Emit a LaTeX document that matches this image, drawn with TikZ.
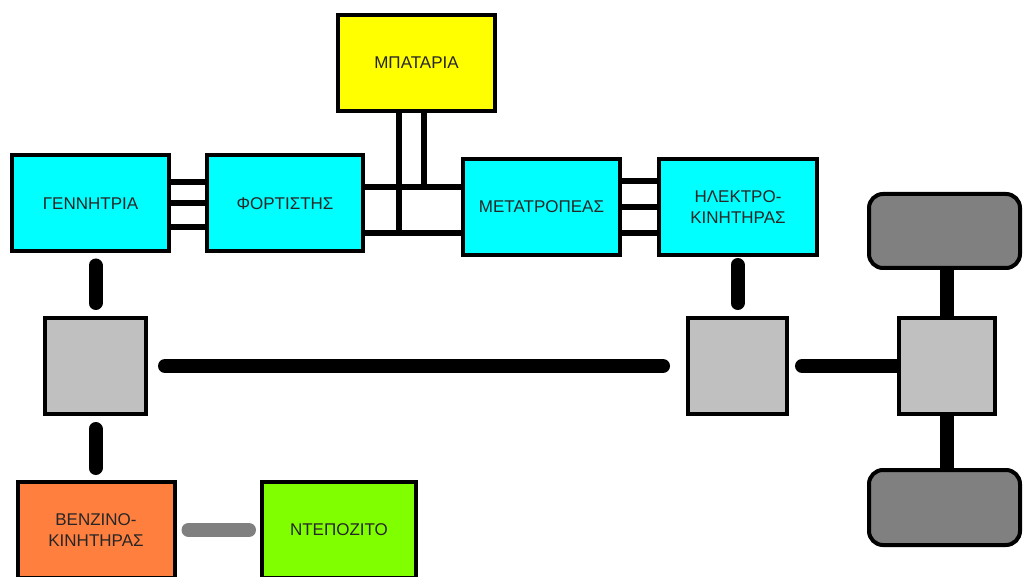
\documentclass[tikz,border=0pt]{standalone}
\usepackage{fontspec}
\setmainfont{Liberation Sans}
\usetikzlibrary{backgrounds}
\definecolor{boxcyan}{RGB}{0,255,255}
\definecolor{boxyellow}{RGB}{255,255,0}
\definecolor{boxorange}{RGB}{255,127,63}
\definecolor{boxgreen}{RGB}{128,255,0}
\definecolor{boxgray}{RGB}{192,192,192}
\definecolor{wheelgray}{RGB}{128,128,128}
\definecolor{fuelgray}{RGB}{128,128,128}
\tikzset{
  unit/.style={draw=black, line width=4pt, rectangle, align=center,
    font=\fontsize{17}{21}\selectfont, text=black!85,
    minimum width=157pt, minimum height=96pt, inner sep=0pt},
  cyanbox/.style={unit, fill=boxcyan},
  gearbox/.style={draw=black, line width=4pt, fill=boxgray,
    minimum width=101pt, minimum height=96pt, inner sep=0pt},
  wheel/.style={draw=black, line width=4pt, fill=wheelgray, rounded corners=14pt,
    minimum width=151pt, minimum height=74pt, inner sep=0pt},
  bus/.style={draw=black, line width=6pt},
  shaft/.style={draw=black, line width=14pt, line cap=round},
  fuel/.style={draw=fuelgray, line width=14pt, line cap=round}
}
\begin{document}
\begin{tikzpicture}[x=1pt, y=-1pt]
\useasboundingbox (0,0) rectangle (1023,577);
\clip (0,0) rectangle (1023,577);

% electrical units
\node[cyanbox] (gen) at (90.5,203.5) {ΓΕΝΝΗΤΡΙΑ};
\node[cyanbox, minimum width=156pt] (chg) at (285,203.5) {ΦΟΡΤΙΣΤΗΣ};
\node[unit, fill=boxyellow] (bat) at (416.5,63) {ΜΠΑΤΑΡΙΑ};
\node[cyanbox] (inv) at (541.5,207) {ΜΕΤΑΤΡΟΠΕΑΣ};
\node[cyanbox, minimum width=158pt] (mot) at (738,207) {ΗΛΕΚΤΡΟ-\\ΚΙΝΗΤΗΡΑΣ};

% mechanical units
\node[gearbox] (g1) at (95.5,366) {};
\node[gearbox, minimum width=99pt] (g2) at (737.5,366) {};
\node[gearbox, minimum width=96pt] (g3) at (947,366) {};
\node[wheel] (w1) at (944.5,231) {};
\node[wheel, minimum height=75pt] (w2) at (944.5,507.5) {};

% combustion engine and tank
\node[unit, fill=boxorange] (eng) at (96,530) {ΒΕΝΖΙΝΟ-\\ΚΙΝΗΤΗΡΑΣ};
\node[unit, fill=boxgreen, minimum width=154pt] (tank) at (339,530) {ΝΤΕΠΟΖΙΤΟ};

\begin{scope}[on background layer]
  % generator -> charger
  \draw[bus] ([yshift=21.5pt]gen.east) -- ([yshift=21.5pt]gen.east -| chg.west);
  \draw[bus, line cap=round] (gen.east) -- (gen.east -| chg.west);
  \draw[bus] ([yshift=-23.5pt]gen.east) -- ([yshift=-23.5pt]gen.east -| chg.west);
  % charger -> inverter, with the battery tapped in
  \coordinate (hi) at ([yshift=16.5pt]chg.east);
  \coordinate (lo) at ([yshift=-29.5pt]chg.east);
  \draw[bus] (hi) -- (hi -| inv.west);
  \draw[bus] (lo) -- (lo -| inv.west);
  \draw[bus] ([xshift=-17.5pt]bat.south) -- ([xshift=-17.5pt]bat.south |- lo);
  \draw[bus] ([xshift=7.5pt]bat.south) -- ([xshift=7.5pt]bat.south |- hi);
  % inverter -> electric motor
  \draw[bus] ([yshift=26pt]inv.east) -- ([yshift=26pt]inv.east -| mot.west);
  \draw[bus] (inv.east) -- (inv.east -| mot.west);
  \draw[bus] ([yshift=-26pt]inv.east) -- ([yshift=-26pt]inv.east -| mot.west);

  % drive shafts
  \draw[shaft, shorten <=12pt, shorten >=13pt] (gen.south -| g1.north) -- (g1.north);
  \draw[shaft, shorten <=13pt, shorten >=12pt] (g1.south) -- (g1.south |- eng.north);
  \draw[shaft, shorten <=17pt, shorten >=23pt] (g1.east) -- (g2.west);
  \draw[shaft, shorten <=8pt, shorten >=13pt] (mot.south -| g2.north) -- (g2.north);
  \draw[shaft, shorten <=13pt] (g2.east) -- (g3.west);
  \draw[shaft] (g3.north) -- (g3.north |- w1.south);
  \draw[shaft] (g3.south) -- (g3.south |- w2.north);

  % fuel line
  \draw[fuel, shorten <=12pt, shorten >=11pt] (eng.east) -- (eng.east -| tank.west);
\end{scope}
\end{tikzpicture}
\end{document}
